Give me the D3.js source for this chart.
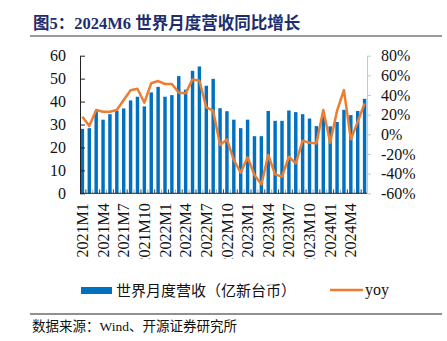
<!DOCTYPE html>
<html>
<head>
<meta charset="utf-8">
<script src="https://cdn.jsdelivr.net/npm/d3@7"></script>
<style>
  body { margin: 0; background: #fff; }
  svg { display: block; }
</style>
</head>
<body>
<script>
// monthly revenue (100M NTD) and yoy (%), 2021M1 .. 2024M6
var months = [
  "2021M1","2021M2","2021M3","2021M4","2021M5","2021M6","2021M7","2021M8","2021M9","2021M10","2021M11","2021M12",
  "2022M1","2022M2","2022M3","2022M4","2022M5","2022M6","2022M7","2022M8","2022M9","2022M10","2022M11","2022M12",
  "2023M1","2023M2","2023M3","2023M4","2023M5","2023M6","2023M7","2023M8","2023M9","2023M10","2023M11","2023M12",
  "2024M1","2024M2","2024M3","2024M4","2024M5","2024M6"
];
var revenue = [
  28.1, 28.4, 35.9, 32.1, 34.5, 35.9, 37.0, 40.5, 42.1, 37.9, 44.0, 46.4,
  42.1, 42.8, 51.1, 45.2, 53.4, 55.3, 46.9, 49.9, 37.1, 35.8, 32.1, 28.4,
  32.1, 24.9, 24.9, 35.9, 31.6, 31.6, 36.1, 35.4, 34.5, 32.6, 29.3, 34.5,
  29.2, 31.1, 36.4, 34.1, 35.9, 41.2
];
var yoy = [
  17.9, 8.4, 24.7, 23.0, 23.0, 24.7, 34.9, 44.8, 46.4, 32.2, 52.0, 54.2,
  51.2, 51.2, 42.3, 41.7, 55.9, 54.5, 27.5, 24.0, -10.9, -5.1, -26.1, -39.0,
  -23.4, -41.4, -50.9, -21.0, -40.7, -43.1, -22.8, -29.5, -6.5, -8.5, -9.2, 24.7,
  -8.5, 24.0, 45.0, -5.1, 12.8, 31.5
];
var xTickLabels = ["2021M1","2021M4","2021M7","2021M10","2022M1","2022M4","2022M7","2022M10",
  "2023M1","2023M4","2023M7","2023M10","2024M1","2024M4"];
var leftTicks = [0, 10, 20, 30, 40, 50, 60];
var rightTicks = [-60, -40, -20, 0, 20, 40, 60, 80];

var W = 447, H = 341;
var plotLeft = 80, plotRight = 367, plotTop = 55.7, plotBottom = 193.3;
var serif = "'Liberation Serif', 'Times New Roman', serif";
var cjk = "'Liberation Serif', 'Noto Sans CJK SC', sans-serif";

var data = months.map(function(m, i) { return { month: m, rev: revenue[i], yoy: yoy[i] }; });

var svg = d3.select("body").append("svg")
  .attr("width", W)
  .attr("height", H);

// title
svg.append("text")
  .attr("x", 33)
  .attr("y", 29)
  .style("font-family", cjk)
  .style("font-weight", "bold")
  .style("font-size", "16.5px")
  .style("fill", "#1f2d6e")
  .text("图5：2024M6 世界月度营收同比增长");

svg.append("line")
  .attr("x1", 30).attr("x2", 442)
  .attr("y1", 36).attr("y2", 36)
  .style("stroke", "#9a9a9a")
  .style("stroke-width", 2);

var x = d3.scaleBand()
  .domain(months)
  .range([plotLeft, plotRight])
  .paddingInner(0.5)
  .paddingOuter(0.1);

var y = d3.scaleLinear().domain([0, 60]).range([plotBottom, plotTop]);
var y2 = d3.scaleLinear().domain([-60, 80]).range([plotBottom, plotTop]);

// bars
svg.append("g")
  .selectAll("rect")
  .data(data)
  .enter().append("rect")
  .attr("x", function(d) { return x(d.month); })
  .attr("width", x.bandwidth())
  .attr("y", function(d) { return y(d.rev); })
  .attr("height", function(d) { return y(0) - y(d.rev); })
  .style("fill", "#0070c0");

// yoy line
var line = d3.line()
  .x(function(d) { return x(d.month) + x.bandwidth() / 2; })
  .y(function(d) { return y2(d.yoy); });

svg.append("path")
  .datum(data)
  .attr("d", line)
  .style("fill", "none")
  .style("stroke", "#ed7d31")
  .style("stroke-width", 2.5)
  .style("stroke-linejoin", "round");

// left axis
var yAxis = d3.axisLeft(y)
  .tickValues(leftTicks)
  .tickSizeInner(-5)
  .tickSizeOuter(0)
  .tickPadding(14);

var gy = svg.append("g")
  .attr("transform", "translate(" + plotLeft + ",0)")
  .call(yAxis);
gy.select(".domain").style("stroke", "#222");
gy.selectAll(".tick line").style("stroke", "#222");
gy.selectAll("text")
  .style("font-family", serif)
  .style("font-size", "16px")
  .style("fill", "#111");

// right axis
var y2Axis = d3.axisRight(y2)
  .tickValues(rightTicks)
  .tickSizeInner(4)
  .tickSizeOuter(0)
  .tickPadding(10)
  .tickFormat(function(d) { return d + "%"; });

var gy2 = svg.append("g")
  .attr("transform", "translate(" + plotRight + ",0)")
  .call(y2Axis);
gy2.select(".domain").style("stroke", "#c8c8c8");
gy2.selectAll(".tick line").style("stroke", "#c8c8c8");
gy2.selectAll("text")
  .style("font-family", serif)
  .style("font-size", "16px")
  .style("fill", "#111");

// bottom axis
svg.append("clipPath")
  .attr("id", "clip")
  .append("rect")
  .attr("x", 0).attr("y", 0)
  .attr("width", W).attr("height", 259);

var xAxis = d3.axisBottom(x)
  .tickValues(xTickLabels)
  .tickSize(0);

var gx = svg.append("g")
  .attr("clip-path", "url(#clip)")
  .append("g")
  .attr("transform", "translate(0," + plotBottom + ")")
  .call(xAxis);
gx.select(".domain").remove();
gx.selectAll("text")
  .attr("transform", "rotate(-90)")
  .attr("x", -10)
  .attr("y", 0)
  .attr("dy", "0.35em")
  .style("text-anchor", "end")
  .style("font-family", serif)
  .style("font-size", "16px")
  .style("fill", "#111");

// small ticks between bars
svg.append("g")
  .selectAll("line")
  .data(months.slice(1))
  .enter().append("line")
  .attr("x1", function(d) { return x(d) - x.step() * x.paddingInner() / 2; })
  .attr("x2", function(d) { return x(d) - x.step() * x.paddingInner() / 2; })
  .attr("y1", plotBottom)
  .attr("y2", plotBottom - 4)
  .style("stroke", function(d, i) { return i % 2 ? "#aaa" : "#444"; });

svg.append("line")
  .attr("x1", plotLeft).attr("x2", plotRight)
  .attr("y1", plotBottom).attr("y2", plotBottom)
  .style("stroke", "#222");

// legend
svg.append("rect")
  .attr("x", 81).attr("y", 287)
  .attr("width", 31).attr("height", 7)
  .style("fill", "#0070c0");
svg.append("text")
  .attr("x", 116).attr("y", 296)
  .style("font-family", "'Noto Sans CJK SC', sans-serif")
  .style("font-size", "15px")
  .style("fill", "#111")
  .text("世界月度营收（亿新台币）");

svg.append("line")
  .attr("x1", 330).attr("x2", 363)
  .attr("y1", 290).attr("y2", 290)
  .style("stroke", "#ed7d31")
  .style("stroke-width", 2.5);
svg.append("text")
  .attr("x", 365).attr("y", 295)
  .style("font-family", serif)
  .style("font-size", "16px")
  .style("fill", "#111")
  .text("yoy");

// source
svg.append("line")
  .attr("x1", 30).attr("x2", 442)
  .attr("y1", 314).attr("y2", 314)
  .style("stroke", "#222");
svg.append("text")
  .attr("x", 32).attr("y", 331)
  .style("font-family", cjk)
  .style("font-size", "13.5px")
  .style("fill", "#111")
  .text("数据来源：Wind、开源证券研究所");
</script>
</body>
</html>
